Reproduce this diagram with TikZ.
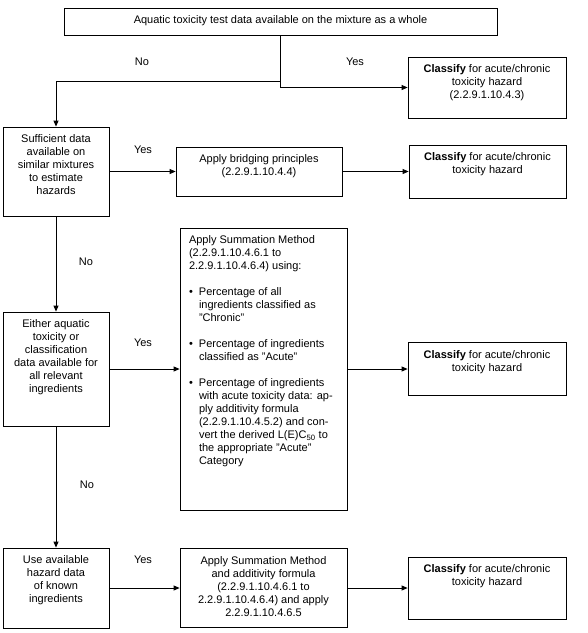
\documentclass[tikz,border=0pt]{standalone}
\usepackage{fontspec}
\setmainfont{Liberation Sans}
\usetikzlibrary{arrows.meta}
\newcommand{\boxtext}[3]{\parbox[c][#2][t]{#1}{\vspace*{6.5pt}\centering\strut #3}}
\newcommand{\sumitem}{\par\vspace{13pt}\leftskip=19pt\noindent\hspace*{-10pt}\makebox[10pt][l]{\textbullet}}
\begin{document}
\begin{tikzpicture}[x=1pt, y=-1pt,
    every node/.style={font=\fontsize{11}{13}\selectfont},
    stepbox/.style={draw, line width=0.8pt, inner sep=0pt},
    arr/.style={line width=0.8pt, -{Triangle[length=6pt,width=5pt]}}]
    \useasboundingbox (0,0) rectangle (588,633);
    % Boxes
    \node[stepbox] (top) at (280.5,21.5) {\boxtext{433pt}{27pt}{Aquatic toxicity test data available on the mixture as a whole}};
    \node[stepbox] (cls1) at (487,87.5) {\boxtext{158pt}{61pt}{\textbf{Classify} for acute/chronic\\toxicity hazard\\(2.2.9.1.10.4.3)}};
    \node[stepbox] (suff) at (56,171.5) {\boxtext{106pt}{89pt}{Sufficient data\\available on\\similar mixtures\\to estimate\\hazards}};
    \node[stepbox] (bridge) at (259,171.5) {\boxtext{166pt}{49pt}{Apply bridging principles\\(2.2.9.1.10.4.4)}};
    \node[stepbox] (cls2) at (487.5,171.5) {\boxtext{157pt}{53pt}{\textbf{Classify} for acute/chronic\\toxicity hazard}};
    \node[stepbox] (either) at (56,369) {\boxtext{106pt}{114pt}{Either aquatic\\toxicity or\\classification\\data available for\\all relevant\\ingredients}};
    \node[stepbox] (summ) at (263.5,369) {\parbox[c][282pt][t]{167pt}{\vspace*{6.5pt}\raggedright\leftskip=9pt
        \strut Apply Summation Method\\(2.2.9.1.10.4.6.1 to\\2.2.9.1.10.4.6.4) using:
        \sumitem Percentage of all\\ingredients classified as\\"Chronic"
        \sumitem Percentage of ingredients\\classified as "Acute"
        \sumitem Percentage of ingredients\\with acute toxicity data: ap-\\ply additivity formula\\(2.2.9.1.10.4.5.2) and con-\\vert the derived L(E)C\textsubscript{50} to\\the appropriate "Acute"\\Category}};
    \node[stepbox] (cls3) at (487,369) {\boxtext{158pt}{53pt}{\textbf{Classify} for acute/chronic\\toxicity hazard}};
    \node[stepbox] (use) at (56,588) {\boxtext{106pt}{80pt}{Use available\\hazard data\\of known\\ingredients}};
    \node[stepbox] (summ2) at (263.5,588) {\boxtext{167pt}{79pt}{Apply Summation Method\\and additivity formula\\(2.2.9.1.10.4.6.1 to\\2.2.9.1.10.4.6.4) and apply\\2.2.9.1.10.4.6.5}};
    \node[stepbox] (cls4) at (487,588) {\boxtext{158pt}{62pt}{\textbf{Classify} for acute/chronic\\toxicity hazard}};
    % Connectors
    \draw[arr] (top.south) |- (cls1.west);
    \draw[arr] ([yshift=-46pt]top.south) -| (suff.north);
    \draw[arr] (suff.east) -- (bridge.west);
    \draw[arr] (bridge.east) -- (cls2.west);
    \draw[arr] (suff.south) -- (either.north);
    \draw[arr] (either.east) -- (summ.west);
    \draw[arr] (summ.east) -- (cls3.west);
    \draw[arr] (either.south) -- (use.north);
    \draw[arr] (use.east) -- (summ2.west);
    \draw[arr] (summ2.east) -- (cls4.west);
    % Labels
    \node (no1) at (142,62) {No};
    \node (yes1) at (355,62) {Yes};
    \node (yes2) at (143,150) {Yes};
    \node (no2) at (86,262) {No};
    \node (yes3) at (143,343) {Yes};
    \node (no3) at (87,485) {No};
    \node (yes4) at (143,560) {Yes};
\end{tikzpicture}
\end{document}
